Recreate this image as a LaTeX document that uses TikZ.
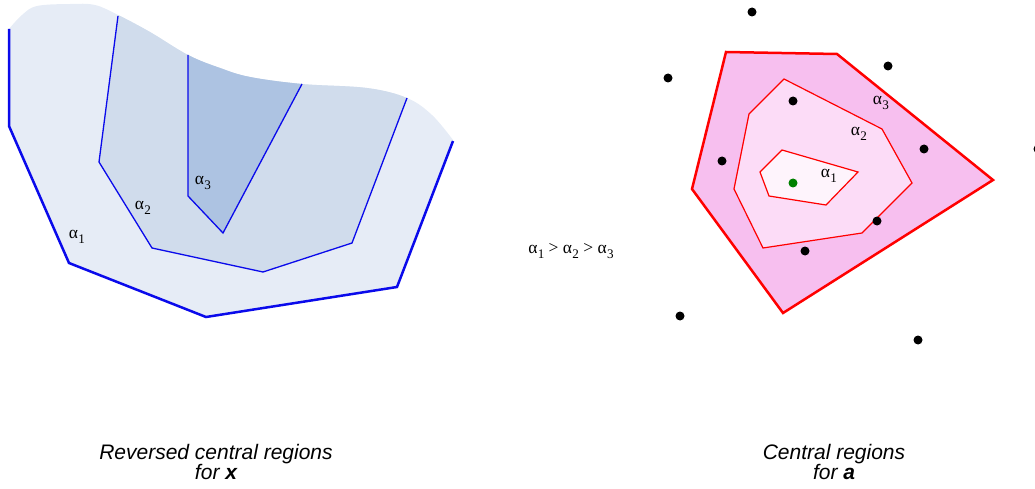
\documentclass[tikz,border=0pt]{standalone}
\usepackage{fontspec}
\setmainfont{Liberation Serif}
\newfontfamily\capfont{Liberation Sans}
\definecolor{lbA}{RGB}{230,236,246}
\definecolor{lbB}{RGB}{208,220,236}
\definecolor{lbC}{RGB}{173,195,226}
\definecolor{pkA}{RGB}{247,191,239}
\definecolor{pkB}{RGB}{252,220,247}
\definecolor{pkC}{RGB}{254,244,252}
\definecolor{bl}{RGB}{10,10,235}
\definecolor{gr}{RGB}{0,128,0}
\newcommand{\alp}[1]{α\kern0.3pt\raisebox{-0.25em}{\scalebox{0.75}{#1}}}
\tikzset{
  thickblue/.style={draw=bl,line width=2.5pt,line join=miter},
  thinblue/.style={draw=bl,line width=1.3pt},
  thickred/.style={draw=red,line width=2.5pt},
  thinred/.style={draw=red,line width=1.2pt},
  dot/.style={circle,fill=black,inner sep=0pt,minimum size=9pt},
  lab/.style={font=\fontsize{17.5}{20}\selectfont,inner sep=0pt},
  captext/.style={font=\capfont\itshape\fontsize{21}{19.5}\selectfont,align=center,inner sep=0pt}
}
\begin{document}
\begin{tikzpicture}[x=1pt,y=-1pt]
\useasboundingbox (0,0) rectangle (1035,489);
% left: reversed central regions
\fill[lbA] (9,126) -- plot[smooth,tension=0.6] coordinates {(9,29) (22,15) (37,6) (70,4) (95,5) (118,15) (150,32) (188,55) (220,68) (250,77) (302,84) (367,88) (407,98) (432,115) (453,140)} -- (397,287) -- (206,317) -- (69,263) -- cycle;
\begin{scope}
\clip (9,126) -- plot[smooth,tension=0.6] coordinates {(9,29) (22,15) (37,6) (70,4) (95,5) (118,15) (150,32) (188,55) (220,68) (250,77) (302,84) (367,88) (407,98) (432,115) (453,140)} -- (397,287) -- (206,317) -- (69,263) -- cycle;
\fill[lbB] (120,0) -- (118,16) -- (99,162) -- (152,248) -- (263,272) -- (352,243) -- (407,98) -- (444,0) -- cycle;
\fill[lbC] (188,0) -- (188,196) -- (223,233) -- (302,84) -- (347,0) -- cycle;
\end{scope}
\draw[thickblue] (9,29) coordinate (o1) -- (9,126) -- (69,263) -- (206,317) -- (397,287) -- (453,141) coordinate (o2);
\draw[thinblue] (118,16) coordinate (m1) -- (99,162) -- (152,248) -- (263,272) -- (352,243) -- (407,98) coordinate (m2);
\draw[thinblue] (188,55) coordinate (i1) -- (188,196) -- (223,233) -- (302,84) coordinate (i2);
\node[lab] (la1) at (77,237) {\alp{1}};
\node[lab] (la2) at (143,208) {\alp{2}};
\node[lab] (la3) at (203,183) {\alp{3}};
% middle
\node[lab] (order) at (571,251) {\alp{1} > \alp{2} > \alp{3}};
% right: central regions
\filldraw[thickred,fill=pkA] (726,52) -- (837,54) -- (993,180) -- (783,313) -- (692,189) -- cycle;
\filldraw[thinred,fill=pkB] (784,79) -- (882,129) -- (912,183) -- (862,233) -- (763,248) -- (734,189) -- (749,114) -- cycle;
\filldraw[thinred,fill=pkC] (782,150) -- (858,172) -- (826,205) -- (769,196) -- (760,172) -- cycle;
\node[lab] (ra3) at (881,103) {\alp{3}};
\node[lab] (ra2) at (859,134) {\alp{2}};
\node[lab] (ra1) at (829,176) {\alp{1}};
\node[dot,fill=gr] (g) at (793,183) {};
\node[dot] (d1) at (752,12) {};
\node[dot] (d2) at (668,78) {};
\node[dot] (d3) at (888,66) {};
\node[dot] (d4) at (793,101) {};
\node[dot] (d5) at (722,161) {};
\node[dot] (d6) at (924,149) {};
\node[dot] (d7) at (877,221) {};
\node[dot] (d8) at (805,251) {};
\node[dot] (d9) at (680,316) {};
\node[dot] (d10) at (918,340) {};
\node[dot] (d11) at (1038,149) {};
% captions
\node[captext] (capL) at (216,462) {Reversed central regions\\for \textbf{\textit{x}}};
\node[captext] (capR) at (834,462) {Central regions\\for \textbf{\textit{a}}};
\end{tikzpicture}
\end{document}
